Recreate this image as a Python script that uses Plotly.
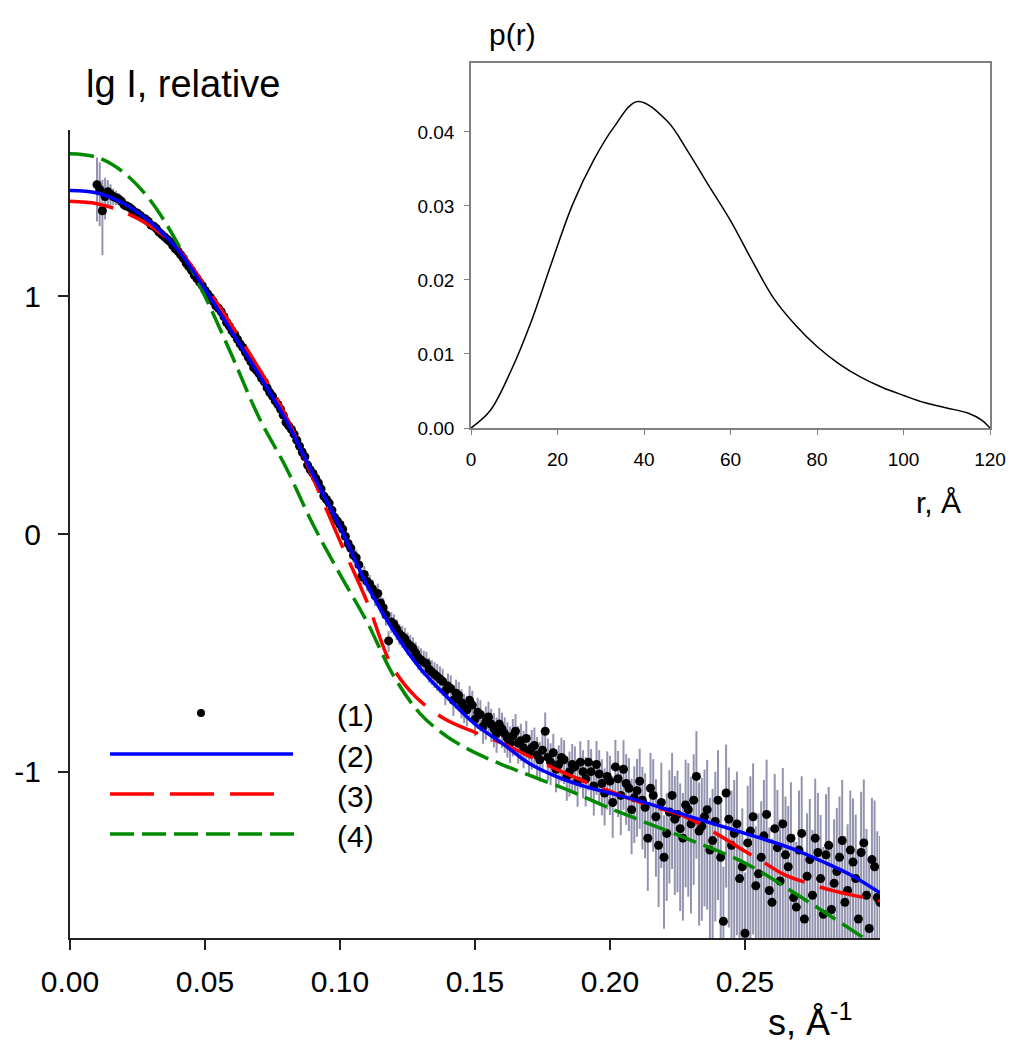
import numpy as np
import plotly.graph_objects as go

# ---- scattering data (1): s in 1/A, lg I, relative error of I ----
# even grid points
s_even = [
    0.010, 0.012, 0.014, 0.016, 0.018, 0.020, 0.022, 0.024, 0.026, 0.028,
    0.030, 0.032, 0.034, 0.036, 0.038, 0.040, 0.042, 0.044, 0.046, 0.048,
    0.050, 0.052, 0.054, 0.056, 0.058, 0.060, 0.062, 0.064, 0.066, 0.068,
    0.070, 0.072, 0.074, 0.076, 0.078, 0.080, 0.082, 0.084, 0.086, 0.088,
    0.090, 0.092, 0.094, 0.096, 0.098, 0.100, 0.102, 0.104, 0.106, 0.108,
    0.110, 0.112, 0.114, 0.116, 0.118, 0.120, 0.122, 0.124, 0.126, 0.128,
    0.130, 0.132, 0.134, 0.136, 0.138, 0.140, 0.142, 0.144, 0.146, 0.148,
    0.150, 0.152, 0.154, 0.156, 0.158, 0.160, 0.162, 0.164, 0.166, 0.168,
    0.170, 0.172, 0.174, 0.176, 0.178, 0.180, 0.182, 0.184, 0.186, 0.188,
    0.190, 0.192, 0.194, 0.196, 0.198, 0.200, 0.202, 0.204, 0.206, 0.208,
    0.210, 0.212, 0.214, 0.216, 0.218, 0.220, 0.222, 0.224, 0.226, 0.228,
    0.230, 0.232, 0.234, 0.236, 0.238, 0.240, 0.242, 0.244, 0.246, 0.248,
    0.250, 0.252, 0.254, 0.256, 0.258, 0.260, 0.262, 0.264, 0.266, 0.268,
    0.270, 0.272, 0.274, 0.276, 0.278, 0.280, 0.282, 0.284, 0.286, 0.288,
    0.290, 0.292, 0.294, 0.296, 0.298, 0.300,
]
lgI_even = [
    1.47, 1.36, 1.44, 1.42, 1.41, 1.385, 1.375, 1.355, 1.34, 1.325,
    1.30, 1.285, 1.26, 1.24, 1.215, 1.19, 1.16, 1.125, 1.09, 1.06,
    1.025, 0.995, 0.96, 0.935, 0.89, 0.855, 0.82, 0.785, 0.745, 0.70,
    0.675, 0.64, 0.595, 0.56, 0.525, 0.47, 0.44, 0.395, 0.345, 0.29,
    0.255, 0.215, 0.16, 0.13, 0.07, 0.04, -0.01, -0.06, -0.10, -0.18,
    -0.20, -0.23, -0.25, -0.31, -0.45, -0.38, -0.42, -0.44, -0.47, -0.50,
    -0.53, -0.545, -0.58, -0.60, -0.62, -0.64, -0.70, -0.68, -0.73, -0.70,
    -0.78, -0.76, -0.79, -0.80, -0.84, -0.82, -0.86, -0.85, -0.88, -0.90,
    -0.92, -0.89, -0.95, -0.83, -0.96, -0.99, -0.94, -1.02, -0.97, -1.04,
    -1.00, -0.96, -1.06, -1.01, -1.09, -1.04, -0.98, -1.10, -1.05, -1.16,
    -1.08, -1.12, -1.28, -1.10, -1.31, -1.36, -1.17, -1.20, -1.24, -1.14,
    -1.22, -1.02, -1.23, -1.16, -1.29, -1.12, -1.63, -1.20, -1.26, -1.45,
    -1.68, -1.25, -1.48, -1.36, -1.18, -1.55, -1.32, -1.22, -1.40, -1.53,
    -1.33, -1.62, -1.37, -1.28, -1.45, -1.35, -1.58, -1.42, -1.29, -1.50,
    -1.38, -1.62, -1.30, -1.66, -1.40, -1.55,
]
err_even = [
    0.30, 0.35, 0.12, 0.08, 0.06, 0.05, 0.04, 0.04, 0.035, 0.03,
    0.03, 0.03, 0.03, 0.03, 0.03, 0.03, 0.03, 0.03, 0.03, 0.03,
    0.03, 0.03, 0.03, 0.03, 0.03, 0.03, 0.03, 0.03, 0.03, 0.03,
    0.03, 0.035, 0.035, 0.035, 0.035, 0.035, 0.04, 0.04, 0.04, 0.04,
    0.045, 0.05, 0.05, 0.05, 0.06, 0.06, 0.07, 0.07, 0.08, 0.08,
    0.09, 0.09, 0.10, 0.10, 0.10, 0.10, 0.10, 0.11, 0.11, 0.11,
    0.12, 0.12, 0.12, 0.13, 0.13, 0.13, 0.14, 0.14, 0.14, 0.15,
    0.15, 0.15, 0.16, 0.16, 0.17, 0.17, 0.17, 0.18, 0.18, 0.18,
    0.19, 0.19, 0.19, 0.20, 0.20, 0.20, 0.21, 0.21, 0.22, 0.22,
    0.23, 0.24, 0.25, 0.26, 0.27, 0.28, 0.30, 0.32, 0.33, 0.35,
    0.36, 0.38, 0.40, 0.42, 0.45, 0.50, 0.50, 0.52, 0.55, 0.55,
    0.58, 0.55, 0.60, 0.62, 0.65, 0.62, 0.70, 0.65, 0.68, 0.75,
    0.80, 0.70, 0.78, 0.72, 0.70, 0.85, 0.75, 0.72, 0.80, 0.85,
    0.78, 0.90, 0.80, 0.78, 0.85, 0.80, 0.90, 0.85, 0.80, 0.90,
    0.85, 0.95, 0.85, 1.00, 0.90, 0.90,
]
# odd grid points
s_odd = [
    0.011, 0.013, 0.015, 0.017, 0.019, 0.021, 0.023, 0.025, 0.027, 0.029,
    0.031, 0.033, 0.035, 0.037, 0.039, 0.041, 0.043, 0.045, 0.047, 0.049,
    0.051, 0.053, 0.055, 0.057, 0.059, 0.061, 0.063, 0.065, 0.067, 0.069,
    0.071, 0.073, 0.075, 0.077, 0.079, 0.081, 0.083, 0.085, 0.087, 0.089,
    0.091, 0.093, 0.095, 0.097, 0.099, 0.101, 0.103, 0.105, 0.107, 0.109,
    0.111, 0.113, 0.115, 0.117, 0.119, 0.121, 0.123, 0.125, 0.127, 0.129,
    0.131, 0.133, 0.135, 0.137, 0.139, 0.141, 0.143, 0.145, 0.147, 0.149,
    0.151, 0.153, 0.155, 0.157, 0.159, 0.161, 0.163, 0.165, 0.167, 0.169,
    0.171, 0.173, 0.175, 0.177, 0.179, 0.181, 0.183, 0.185, 0.187, 0.189,
    0.191, 0.193, 0.195, 0.197, 0.199, 0.201, 0.203, 0.205, 0.207, 0.209,
    0.211, 0.213, 0.215, 0.217, 0.219, 0.221, 0.223, 0.225, 0.227, 0.229,
    0.231, 0.233, 0.235, 0.237, 0.239, 0.241, 0.243, 0.245, 0.247, 0.249,
    0.251, 0.253, 0.255, 0.257, 0.259, 0.261, 0.263, 0.265, 0.267, 0.269,
    0.271, 0.273, 0.275, 0.277, 0.279, 0.281, 0.283, 0.285, 0.287, 0.289,
    0.291, 0.293, 0.295, 0.297, 0.299,
]
lgI_odd = [
    1.45, 1.42, 1.43, 1.415, 1.40, 1.38, 1.365, 1.35, 1.33, 1.315,
    1.295, 1.27, 1.25, 1.23, 1.20, 1.175, 1.14, 1.11, 1.075, 1.045,
    1.01, 0.98, 0.95, 0.915, 0.875, 0.84, 0.80, 0.765, 0.725, 0.69,
    0.655, 0.615, 0.58, 0.545, 0.50, 0.455, 0.42, 0.37, 0.325, 0.27,
    0.235, 0.19, 0.145, 0.10, 0.055, 0.02, -0.04, -0.09, -0.13, -0.17,
    -0.21, -0.26, -0.29, -0.34, -0.37, -0.40, -0.43, -0.46, -0.48, -0.52,
    -0.54, -0.57, -0.59, -0.61, -0.66, -0.65, -0.67, -0.71, -0.74, -0.72,
    -0.75, -0.81, -0.77, -0.82, -0.80, -0.84, -0.88, -0.83, -0.87, -0.86,
    -0.90, -0.93, -0.91, -0.94, -0.92, -0.97, -0.95, -1.00, -0.98, -0.96,
    -1.03, -1.00, -0.97, -1.05, -1.02, -1.13, -1.03, -0.99, -1.07, -1.11,
    -1.04, -1.15, -1.07, -1.19, -1.13, -1.26, -1.10, -1.18, -1.28, -1.16,
    -1.12, -1.25, -1.19, -1.33, -1.21, -1.36, -1.09, -1.31, -1.22, -1.40,
    -1.30, -1.19, -1.43, -1.27, -1.50, -1.24, -1.46, -1.35, -1.28, -1.57,
    -1.26, -1.44, -1.52, -1.34, -1.60, -1.31, -1.47, -1.36, -1.55, -1.33,
    -1.45, -1.34, -1.52, -1.37, -1.53,
]
err_odd = [
    0.30, 0.20, 0.10, 0.07, 0.05, 0.045, 0.04, 0.035, 0.03, 0.03,
    0.03, 0.03, 0.03, 0.03, 0.03, 0.03, 0.03, 0.03, 0.03, 0.03,
    0.03, 0.03, 0.03, 0.03, 0.03, 0.03, 0.03, 0.03, 0.03, 0.03,
    0.03, 0.035, 0.035, 0.035, 0.035, 0.04, 0.04, 0.04, 0.04, 0.045,
    0.05, 0.05, 0.05, 0.055, 0.06, 0.065, 0.07, 0.075, 0.08, 0.085,
    0.09, 0.095, 0.10, 0.10, 0.10, 0.10, 0.105, 0.11, 0.11, 0.115,
    0.12, 0.12, 0.125, 0.13, 0.13, 0.135, 0.14, 0.14, 0.145, 0.15,
    0.15, 0.155, 0.16, 0.165, 0.17, 0.17, 0.175, 0.18, 0.18, 0.185,
    0.19, 0.19, 0.195, 0.20, 0.20, 0.205, 0.21, 0.215, 0.22, 0.225,
    0.235, 0.245, 0.255, 0.265, 0.275, 0.29, 0.31, 0.325, 0.34, 0.355,
    0.37, 0.39, 0.41, 0.44, 0.47, 0.48, 0.51, 0.53, 0.55, 0.57,
    0.56, 0.60, 0.58, 0.66, 0.62, 0.68, 0.60, 0.70, 0.66, 0.76,
    0.74, 0.68, 0.80, 0.72, 0.84, 0.70, 0.82, 0.76, 0.72, 0.88,
    0.74, 0.84, 0.88, 0.78, 0.92, 0.76, 0.86, 0.80, 0.90, 0.78,
    0.86, 0.80, 0.90, 0.82, 0.90,
]

# ---- model curves ----
s_fit2 = [0.000, 0.010, 0.020, 0.030, 0.040, 0.050, 0.060, 0.070, 0.080, 0.090,
          0.100, 0.110, 0.120, 0.130, 0.140, 0.150, 0.160, 0.170, 0.180, 0.190,
          0.200, 0.210, 0.220, 0.230, 0.240, 0.250, 0.260, 0.270, 0.280, 0.290, 0.300]
lgI_fit2 = [1.445, 1.435, 1.39, 1.31, 1.196, 1.03, 0.85, 0.67, 0.48, 0.25,
            0.03, -0.215, -0.41, -0.57, -0.69, -0.80, -0.88, -0.965, -1.02, -1.06,
            -1.09, -1.12, -1.155, -1.19, -1.225, -1.26, -1.295, -1.335, -1.385, -1.44, -1.51]

s_fit3 = [0.000, 0.010, 0.020, 0.030, 0.040, 0.050, 0.060, 0.070, 0.080, 0.090,
          0.100, 0.110, 0.119, 0.128, 0.139, 0.150, 0.160, 0.170, 0.182, 0.197,
          0.214, 0.228, 0.240, 0.250, 0.256, 0.264, 0.272, 0.284, 0.294, 0.300]
lgI_fit3 = [1.40, 1.39, 1.355, 1.295, 1.20, 1.045, 0.875, 0.695, 0.495, 0.235,
            -0.03, -0.285, -0.55, -0.685, -0.78, -0.835, -0.88, -0.935, -1.0, -1.07,
            -1.14, -1.19, -1.265, -1.335, -1.375, -1.43, -1.465, -1.505, -1.53, -1.545]

s_fit4 = [0.000, 0.010, 0.020, 0.030, 0.040, 0.050, 0.060, 0.070, 0.080, 0.090,
          0.100, 0.110, 0.120, 0.130, 0.140, 0.150, 0.160, 0.170, 0.185, 0.197,
          0.209, 0.228, 0.250, 0.271, 0.294]
lgI_fit4 = [1.60, 1.585, 1.52, 1.40, 1.22, 1.0, 0.75, 0.49, 0.28, 0.04,
            -0.17, -0.37, -0.60, -0.76, -0.855, -0.92, -0.97, -1.015, -1.08, -1.14,
            -1.195, -1.28, -1.385, -1.53, -1.70]

# ---- distance distribution (inset) ----
r_pr = [0, 4.5, 9.3, 14.0, 18.8, 23.5, 28.3, 33.0, 38.5, 45.3, 50.1, 54.8,
        60, 65, 70, 75, 80, 85, 90, 95, 100, 105, 110, 115, 118, 120]
p_pr = [0, 0.0024, 0.0078, 0.0145, 0.0226, 0.0302, 0.0361, 0.0406, 0.0441,
        0.0415, 0.0374, 0.0329, 0.0280, 0.0226, 0.0175, 0.0139, 0.0110, 0.0087,
        0.0069, 0.0055, 0.0044, 0.0034, 0.0027, 0.0020, 0.0011, 0]

x_ticks = [0.00, 0.05, 0.10, 0.15, 0.20, 0.25]
y_ticks = [-1, 0, 1]
r_ticks = [0, 20, 40, 60, 80, 100, 120]
p_ticks = [0, 0.01, 0.02, 0.03, 0.04]
legend_labels = ["(1)", "(2)", "(3)", "(4)"]

s_data = s_even + s_odd
lgI_data = lgI_even + lgI_odd
rel = np.array(err_even + err_odd)
# error bars in lg scale (lower side unbounded when error >= intensity)
err_up = np.log10(1 + rel)
err_dn = np.where(rel < 0.999, -np.log10(np.clip(1 - rel, 1e-6, None)), 3.0)

FONT = "Liberation Sans, Arial, sans-serif"
BLUE, RED, GREEN = "#0000ff", "#ff0000", "#008a00"

# the page puts the figure 8 px in from the top/left corner
OFF = 8
L, R, T, B = 62, 42, 55, 132
W, H = 1024 - L - R, 1062 - T - B


def px(x):
    # screen x pixel -> paper fraction
    return (x - OFF - L) / W


def py(y):
    # screen y pixel -> paper fraction
    return (1062 - B - (y - OFF)) / H


fig = go.Figure()

fig.add_trace(go.Scatter(
    x=s_data, y=lgI_data, mode="markers",
    marker=dict(color="black", size=9),
    error_y=dict(type="data", symmetric=False, array=err_up, arrayminus=err_dn,
                 color="#9494b0", thickness=2, width=0),
    showlegend=False,
))
fig.add_trace(go.Scatter(x=s_fit4, y=lgI_fit4, mode="lines", line_shape="spline",
                         line=dict(color=GREEN, width=3.5, dash="24px,8px"), showlegend=False))
fig.add_trace(go.Scatter(x=s_fit3, y=lgI_fit3, mode="lines", line_shape="spline",
                         line=dict(color=RED, width=3.5, dash="44px,16px"), showlegend=False))
fig.add_trace(go.Scatter(x=s_fit2, y=lgI_fit2, mode="lines", line_shape="spline",
                         line=dict(color=BLUE, width=3.5), showlegend=False))

fig.add_trace(go.Scatter(x=r_pr, y=p_pr, mode="lines", line_shape="spline",
                         line=dict(color="black", width=1.5),
                         xaxis="x2", yaxis="y2", showlegend=False))

# hand-drawn legend in the lower left corner
leg_y = [713, 754, 794, 834]
shapes = [
    dict(type="circle", xref="paper", yref="paper", xsizemode="pixel", ysizemode="pixel",
         xanchor=px(201), yanchor=py(leg_y[0]), x0=-4, x1=4, y0=-4, y1=4,
         fillcolor="black", line=dict(width=0)),
    dict(type="line", xref="paper", yref="paper", x0=px(110), x1=px(293),
         y0=py(leg_y[1]), y1=py(leg_y[1]), line=dict(color=BLUE, width=3.5)),
    dict(type="line", xref="paper", yref="paper", x0=px(110), x1=px(274),
         y0=py(leg_y[2]), y1=py(leg_y[2]), line=dict(color=RED, width=3.5, dash="44px,16px")),
    dict(type="line", xref="paper", yref="paper", x0=px(110), x1=px(294),
         y0=py(leg_y[3]), y1=py(leg_y[3]), line=dict(color=GREEN, width=3.5, dash="24px,8px")),
]

annotations = [
    dict(text=lab, x=px(355), y=py(yy + 2), xref="paper", yref="paper", showarrow=False,
         xanchor="center", yanchor="middle", font=dict(size=30, family=FONT, color="black"))
    for lab, yy in zip(legend_labels, leg_y)
]
annotations += [
    dict(text="lg I, relative", x=px(84), y=py(84), xref="paper", yref="paper",
         showarrow=False, xanchor="left", yanchor="middle",
         font=dict(size=38, family=FONT, color="black")),
    dict(text="s, Å<sup>-1</sup>", x=px(766), y=py(1020), xref="paper", yref="paper",
         showarrow=False, xanchor="left", yanchor="middle",
         font=dict(size=36, family=FONT, color="black")),
    dict(text="p(r)", x=px(487), y=py(34), xref="paper", yref="paper",
         showarrow=False, xanchor="left", yanchor="middle",
         font=dict(size=30, family=FONT, color="black")),
    dict(text="r, Å", x=px(914), y=py(502), xref="paper", yref="paper",
         showarrow=False, xanchor="left", yanchor="middle",
         font=dict(size=30, family=FONT, color="black")),
]

fig.update_layout(
    width=1024, height=1062,
    margin=dict(l=L, r=R, t=T, b=B, autoexpand=False),
    paper_bgcolor="white", plot_bgcolor="white",
    font=dict(family=FONT, color="black"),
    shapes=shapes, annotations=annotations,
    xaxis=dict(domain=[0, px(880)], range=[0, 0.30], tickvals=x_ticks,
               ticktext=[f"{v:.2f}" for v in x_ticks], automargin=False,
               showline=True, linecolor="#222222", linewidth=2, ticks="outside",
               ticklen=10, tickwidth=2, tickcolor="#222222", showgrid=False,
               zeroline=False, tickfont=dict(size=30), ticklabelstandoff=6),
    yaxis=dict(domain=[0, py(130)], range=[-1.7, 1.7], tickvals=y_ticks,
               ticktext=[str(v) for v in y_ticks], automargin=False,
               showline=True, linecolor="#222222", linewidth=2, ticks="outside",
               ticklen=10, tickwidth=2, tickcolor="#222222", showgrid=False,
               zeroline=False, tickfont=dict(size=30), ticklabelstandoff=11),
    xaxis2=dict(domain=[px(471), px(990)], range=[0, 120], anchor="y2",
                tickvals=r_ticks, automargin=False,
                showline=True, mirror=True, linecolor="#808080", linewidth=1.5,
                ticks="outside", ticklen=5, tickcolor="#808080", showgrid=False,
                zeroline=False, tickfont=dict(size=19), ticklabelstandoff=8),
    yaxis2=dict(domain=[py(428), py(63)], range=[0, 0.0493], anchor="x2",
                tickvals=p_ticks, tickformat=".2f", automargin=False,
                showline=True, mirror=True, linecolor="#808080", linewidth=1.5,
                ticks="outside", ticklen=5, tickcolor="#808080", showgrid=False,
                zeroline=False, tickfont=dict(size=19), ticklabelstandoff=6),
)

fig.write_html("out.html")
